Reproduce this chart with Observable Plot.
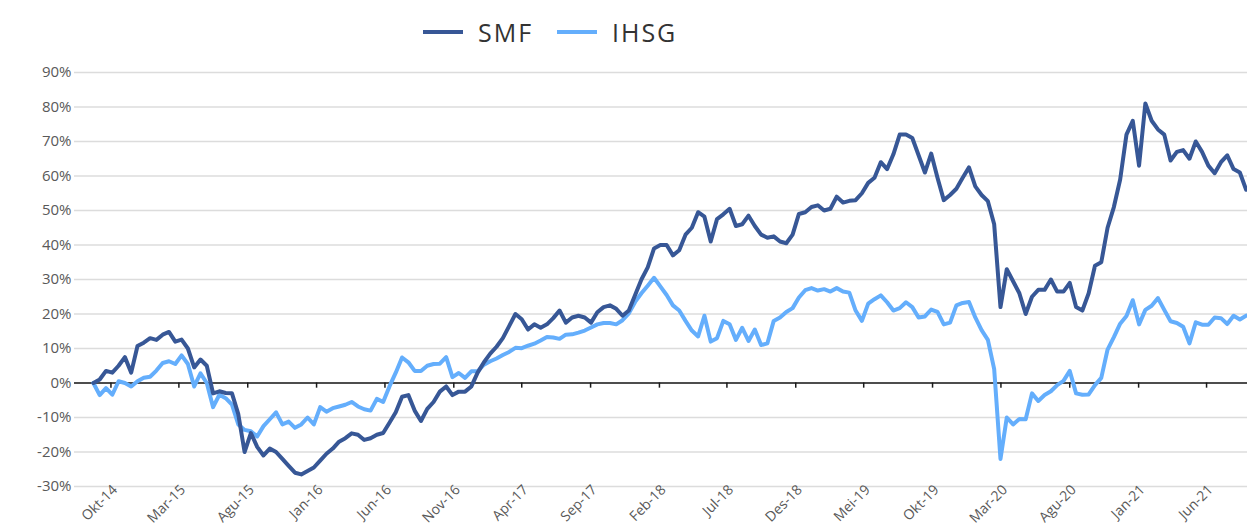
<!DOCTYPE html>
<html>
<head>
<meta charset="utf-8">
<script src="https://cdn.jsdelivr.net/npm/d3@7"></script>
<script src="https://cdn.jsdelivr.net/npm/@observablehq/plot@0.6"></script>
<style>
  body { margin: 0; background: #fff; font-family: "Open Sans", sans-serif; }
  #wrap { width: 1247px; }
  #legend { position: relative; height: 55px; }
  .sw { position: absolute; top: 30px; width: 40px; height: 4px; }
  .lb { position: absolute; top: 14px; font-size: 25px; line-height: 36px; color: #333; letter-spacing: 2px; }
</style>
</head>
<body>
<div id="wrap">
  <div id="legend">
    <div class="sw" style="left:423px;background:#375796"></div>
    <div class="lb" style="left:478px">SMF</div>
    <div class="sw" style="left:557px;background:#64aefc"></div>
    <div class="lb" style="left:612px">IHSG</div>
  </div>
  <div id="chart"></div>
</div>
<script>
// Biweekly observations starting 2014-08-23 (cumulative return, %)
const startDate = "2014-08-23";
const stepDays = 14;
const smfValues = [
  0, 1, 3.5, 3, 5, 7.5, 3, 10.7, 11.7, 13,
  12.5, 14, 14.8, 12, 12.6, 10, 4.5, 6.8, 5, -3,
  -2.4, -2.9, -3, -9, -20, -14.5, -18.5, -21, -19, -20,
  -22, -24, -26, -26.5, -25.5, -24.5, -22.5, -20.5, -19, -17,
  -16, -14.6, -15, -16.5, -16, -15, -14.5, -11.5, -8.5, -4,
  -3.5, -8, -11, -7.5, -5.5, -2.5, -1, -3.5, -2.5, -2.5,
  -1, 3, 6, 8.5, 10.5, 13, 16.5, 20, 18.5, 15.5,
  17, 16, 17, 18.8, 21, 17.5, 19, 19.5, 19, 17.5,
  20.5, 22, 22.5, 21.5, 19.5, 21, 25.5, 30, 33.5, 39,
  40, 40, 37, 38.5, 43, 45, 49.5, 48.2, 41, 47.5,
  48.9, 50.5, 45.5, 46, 48.5, 45.5, 43, 42.1, 42.5, 41,
  40.5, 43, 49, 49.5, 51, 51.5, 50, 50.5, 54, 52.3,
  52.8, 53, 55, 58, 59.5, 64, 62, 66.3, 72, 72,
  71, 66, 61, 66.5, 59.5, 53, 54.5, 56.3, 59.5, 62.5,
  57, 54.5, 52.7, 46, 22, 33, 29.5, 26, 20, 25,
  27, 27, 30, 26.5, 26.5, 29, 22, 21, 26, 34,
  35, 45, 51, 59, 72, 76, 63, 81, 76, 73.5,
  72, 64.5, 67, 67.5, 65, 70, 67, 63, 60.8, 64,
  66, 62, 61, 56
];
const ihsgValues = [
  0, -3.5, -1.5, -3.4, 0.5, 0, -1, 0.5, 1.5, 1.8,
  3.6, 5.8, 6.3, 5.5, 8, 5.5, -1, 2.8, 0, -7,
  -3.4, -4.4, -6.3, -12, -13.6, -14, -15.5, -12.5, -10.5, -8.5,
  -12, -11.2, -13, -12, -10, -12, -7, -8.3, -7.3, -6.8,
  -6.3, -5.5, -6.8, -7.6, -8, -4.6, -5.5, -1, 3, 7.4,
  6, 3.5, 3.5, 5, 5.5, 5.6, 7.5, 1.7, 2.9, 1.5,
  3.4, 3.4, 5.3, 6.3, 7.1, 8.1, 9, 10.2, 10.1, 10.8,
  11.4, 12.3, 13.3, 13.2, 12.8, 14, 14.1, 14.6, 15.2, 16.1,
  17, 17.4, 17.4, 17, 18.2, 20.2, 23.5, 26, 28.2, 30.5,
  28, 25.5, 22.5, 21, 18, 15.2, 13.5, 19.5, 12, 13,
  18, 17, 12.5, 16, 12.2, 15.5, 11, 11.5, 18, 19,
  20.6, 21.7, 24.8, 26.9, 27.5, 26.8, 27.2, 26.5, 27.5, 26.5,
  26.2, 21, 18, 23, 24.3, 25.4, 23.4, 21, 21.7, 23.4,
  22, 19, 19.3, 21.3, 20.6, 17, 17.5, 22.5, 23.2, 23.5,
  19, 15.3, 12.5, 4, -22, -10, -12, -10.4, -10.5, -3,
  -5.2, -3.5, -2.4, -0.6, 0.6, 3.5, -3, -3.4, -3.3, -0.6,
  1.5, 9.7, 13.3, 17.2, 19.4, 24, 17, 21.2, 22.4, 24.6,
  21.2, 17.9, 17.4, 16.3, 11.5, 17.6, 16.9, 16.9, 19, 18.8,
  17.1, 19.5, 18.4, 19.5
];
const tickDates = ["2014-10-01","2015-03-01","2015-08-01","2016-01-01","2016-06-01","2016-11-01",
  "2017-04-01","2017-09-01","2018-02-01","2018-07-01","2018-12-01","2019-05-01","2019-10-01",
  "2020-03-01","2020-08-01","2021-01-01","2021-06-01"];
const tickLabels = ["Okt-14","Mar-15","Agu-15","Jan-16","Jun-16","Nov-16","Apr-17","Sep-17",
  "Feb-18","Jul-18","Des-18","Mei-19","Okt-19","Mar-20","Agu-20","Jan-21","Jun-21"];
const yTicks = [-30, -20, -10, 0, 10, 20, 30, 40, 50, 60, 70, 80, 90];

const start = new Date(startDate);
const toRows = (vals) => vals.map((v, i) => ({date: d3.utcDay.offset(start, i * stepDays), value: v}));
const smf = toRows(smfValues);
const ihsg = toRows(ihsgValues);
const tDates = tickDates.map(s => new Date(s));
const labelMap = new Map(tDates.map((d, i) => [d.getTime(), tickLabels[i]]));

const chart = Plot.plot({
  width: 1247,
  height: 473,
  marginLeft: 74,
  marginRight: 0,
  marginTop: 17,
  marginBottom: 42,
  style: {fontFamily: "Open Sans, sans-serif", fontSize: "15px", color: "#595959", background: "#fff", overflow: "visible"},
  x: {type: "utc", domain: [new Date("2014-07-12"), new Date("2021-08-31")]},
  y: {domain: [-30, 90]},
  marks: [
    Plot.gridY(yTicks, {stroke: "#dcdcdc", strokeOpacity: 1, strokeWidth: 1.4}),
    Plot.axisY(yTicks, {tickSize: 0, tickPadding: 3, tickFormat: d => d + "%", fontSize: 15, fill: "#595959", label: null}),
    Plot.axisX(tDates, {tickSize: 0, tickPadding: 1, dx: 4, tickRotate: -45, tickFormat: d => labelMap.get(d.getTime()), fontSize: 14, fill: "#595959", label: null}),
    Plot.ruleY([0], {stroke: "#1a1a1a", strokeWidth: 1.5}),
    Plot.ruleX(tDates, {x: d => d, y1: 0, y2: -1.5, stroke: "#1a1a1a", strokeWidth: 1.5}),
    Plot.line(ihsg, {x: "date", y: "value", stroke: "#64aefc", strokeWidth: 4, strokeLinejoin: "round"}),
    Plot.line(smf, {x: "date", y: "value", stroke: "#375796", strokeWidth: 4, strokeLinejoin: "round"})
  ]
});
document.getElementById("chart").appendChild(chart);
</script>
</body>
</html>
